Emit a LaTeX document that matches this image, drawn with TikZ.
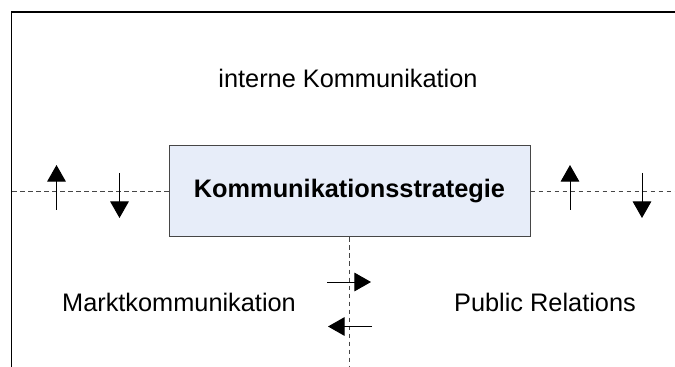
\documentclass[tikz,border=0pt]{standalone}
\usepackage{fontspec}
\setmainfont{Liberation Sans}
\usetikzlibrary{positioning,arrows.meta}
\definecolor{boxblue}{RGB}{231,237,249}
\definecolor{rimgray}{RGB}{70,70,70}

\begin{document}
\begin{tikzpicture}[x=0.75pt,y=-0.75pt,
        flow/.style={-{Triangle[width=14pt,length=12.5pt]},line width=.75pt},
        sep/.style={dash pattern=on 3.5pt off 2.5pt,line width=.75pt,rimgray},
        txt/.style={font=\fontsize{19pt}{22pt}\selectfont}]
        \useasboundingbox (0,0) rectangle (675,367);

        % Frame
        \coordinate (topright) at (675,12);
        \coordinate (corner) at (11.5,12);
        \coordinate (bottomleft) at (11.5,367);
        \draw[line width=.9pt] (bottomleft) -- (corner) -- (topright);

        % Strategy box
        \node[draw=rimgray,fill=boxblue,line width=.75pt,minimum width=270.75pt,minimum height=68.25pt,
              font=\fontsize{19pt}{22pt}\selectfont\bfseries] (strat) at (349.5,191.5) {Kommunikationsstrategie};

        % Separators
        \draw[sep] (strat.west) -- (strat.west -| corner);
        \draw[sep] (strat.east) -- (strat.east -| topright);
        \draw[sep] (strat.south) -- (strat.south |- bottomleft);

        % Areas
        \node[txt] (intern) at (348,78.5) {interne Kommunikation};
        \node[txt] (markt) at (179,302.5) {Marktkommunikation};
        \node[txt] (pr) at (545,302.5) {Public Relations};

        % Flows
        \foreach \x in {56.5,570} \draw[flow] (\x,210) -- (\x,165);
        \foreach \x in {119.5,642} \draw[flow] (\x,173) -- (\x,218);
        \draw[flow] (327,282) -- (371,282);
        \draw[flow] (372,326.5) -- (328,326.5);
    \end{tikzpicture}
\end{document}
